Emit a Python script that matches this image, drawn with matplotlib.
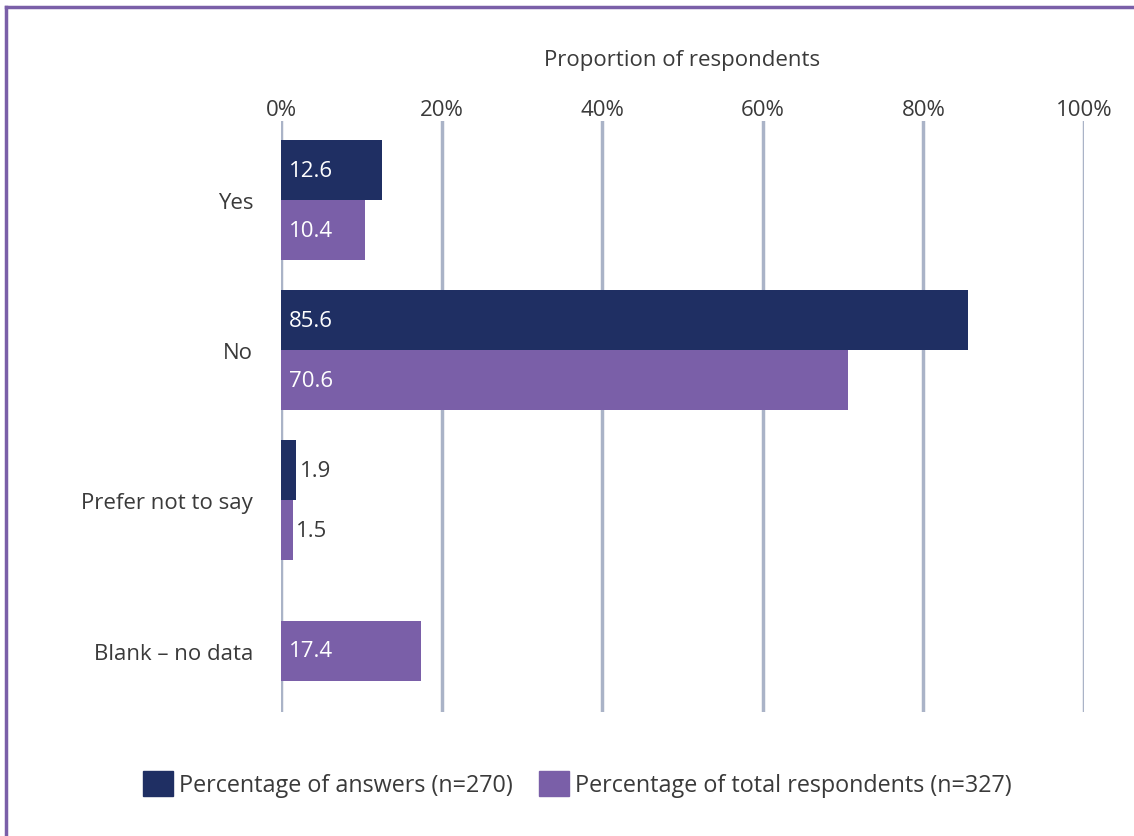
import numpy as np
import matplotlib.pyplot as plt
from matplotlib.lines import Line2D

plt.rcParams['font.family'] = ['Open Sans', 'DejaVu Sans']

categories = ["Yes", "No", "Prefer not to say", "Blank \u2013 no data"]
answers = [12.6, 85.6, 1.9, None]
total = [10.4, 70.6, 1.5, 17.4]
series_names = ["Percentage of answers (n=270)", "Percentage of total respondents (n=327)"]
ticks = [0, 20, 40, 60, 80, 100]

navy = "#1f2f63"
purple = "#7a5fa8"
grid_col = "#aab3c7"
text_col = "#3a3a3a"
fs = 16

fig = plt.figure(figsize=(11.34, 8.37), dpi=100)
ax = fig.add_axes([0.2478, 0.148, 0.956 - 0.2478, 0.8542 - 0.148])

y = np.arange(len(categories))
h = 0.4


# value labels: inside the bar when wide enough, outside otherwise
def put_label(val, yy):
    if val > 5:
        ax.text(1.0, yy, f"{val}", color="white", fontsize=fs, va="center", ha="left", zorder=4)
    else:
        ax.text(val + 0.4, yy, f"{val}", color=text_col, fontsize=fs, va="center", ha="left", zorder=4)


for i in range(len(categories)):
    if answers[i] is None:
        # only one series here, so the bar sits on the category centre
        ax.barh(y[i], total[i], height=h, color=purple, zorder=3)
        put_label(total[i], y[i])
        continue
    ax.barh(y[i] - h / 2, answers[i], height=h, color=navy, zorder=3)
    ax.barh(y[i] + h / 2, total[i], height=h, color=purple, zorder=3)
    put_label(answers[i], y[i] - h / 2)
    put_label(total[i], y[i] + h / 2)

ax.set_xlim(0, 100)
ax.set_ylim(3.41, -0.527)
for t in ticks:
    ax.axvline(t, color=grid_col, lw=2.5, zorder=1)

ax.xaxis.tick_top()
ax.xaxis.set_label_position("top")
ax.set_xticks(ticks)
ax.set_xticklabels([f"{t}%" for t in ticks])
ax.set_yticks(y)
ax.set_yticklabels(categories)
ax.tick_params(axis="both", length=0, labelsize=fs, labelcolor=text_col)
ax.tick_params(axis="x", pad=1)
ax.tick_params(axis="y", pad=20)
ax.set_xlabel("Proportion of respondents", fontsize=fs, color=text_col, labelpad=24)
for s in ax.spines.values():
    s.set_visible(False)

handles = [plt.Rectangle((0, 0), 1, 1, color=navy), plt.Rectangle((0, 0), 1, 1, color=purple)]
fig.legend(handles, series_names, loc="center", bbox_to_anchor=(0.509, 0.062), ncol=2,
           frameon=False, fontsize=16.8, handlelength=1.3, handleheight=1.3,
           handletextpad=0.25, columnspacing=1.1, labelcolor=text_col)

# outer frame (left and top edges)
fig.add_artist(Line2D([0.0053, 0.0053], [0, 1 - 8 / 837], color=purple, lw=2.5))
fig.add_artist(Line2D([0.0053, 1], [1 - 8 / 837, 1 - 8 / 837], color=purple, lw=2.5))

fig.savefig("out.png", dpi=100)
